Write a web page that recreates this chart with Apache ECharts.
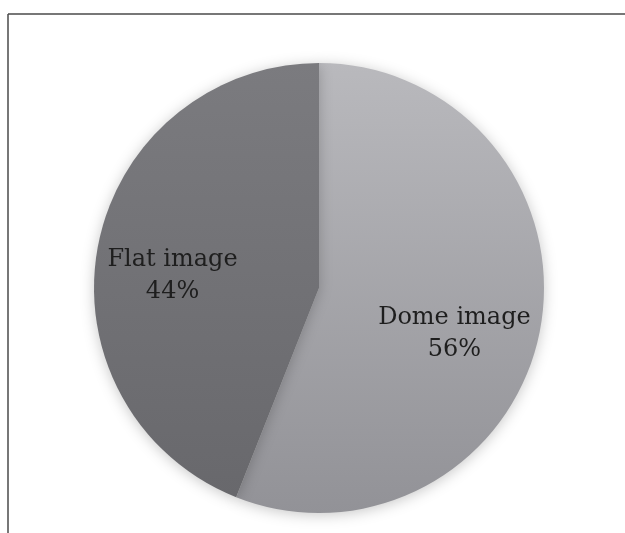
<!DOCTYPE html>
<html>
<head>
<meta charset="utf-8">
<style>
  html, body { margin: 0; padding: 0; background: #ffffff; }
  #chart { width: 625px; height: 533px; }
</style>
<script src="https://cdn.jsdelivr.net/npm/echarts@6/dist/echarts.min.js"></script>
</head>
<body>
<div id="chart"></div>
<script>
const categories = ['Dome image', 'Flat image'];
const values = [56, 44];

const sliceStyles = [
  { top: '#b9b9bd', bottom: '#929297', offset: [22, 24] },
  { top: '#7b7b7f', bottom: '#68686c', offset: [-33, 9] }
];

const chart = echarts.init(document.getElementById('chart'), null, { renderer: 'canvas' });

const data = categories.map((name, i) => ({
  name: name,
  value: values[i],
  itemStyle: {
    color: {
      type: 'linear', x: 0, y: 0, x2: 0, y2: 1,
      colorStops: [
        { offset: 0, color: sliceStyles[i].top },
        { offset: 1, color: sliceStyles[i].bottom }
      ]
    }
  },
  label: { offset: sliceStyles[i].offset }
}));

chart.setOption({
  backgroundColor: '#ffffff',
  animation: false,
  graphic: [
    { type: 'line', shape: { x1: 8, y1: 14, x2: 625, y2: 14 }, style: { stroke: '#4a4a4a', lineWidth: 1.5 } },
    { type: 'line', shape: { x1: 8, y1: 14, x2: 8, y2: 533 }, style: { stroke: '#4a4a4a', lineWidth: 1.5 } }
  ],
  series: [{
    type: 'pie',
    center: [319, 288],
    radius: [0, 225],
    startAngle: 90,
    clockwise: true,
    silent: true,
    itemStyle: {
      borderWidth: 0,
      shadowBlur: 14,
      shadowColor: 'rgba(0,0,0,0.22)',
      shadowOffsetY: 2
    },
    label: {
      show: true,
      position: 'inside',
      formatter: '{b}\n{d}%',
      fontFamily: 'DejaVu Serif',
      fontSize: 24,
      lineHeight: 32,
      color: '#1e1e1e',
      align: 'center'
    },
    labelLine: { show: false },
    data: data
  }]
});
</script>
</body>
</html>
